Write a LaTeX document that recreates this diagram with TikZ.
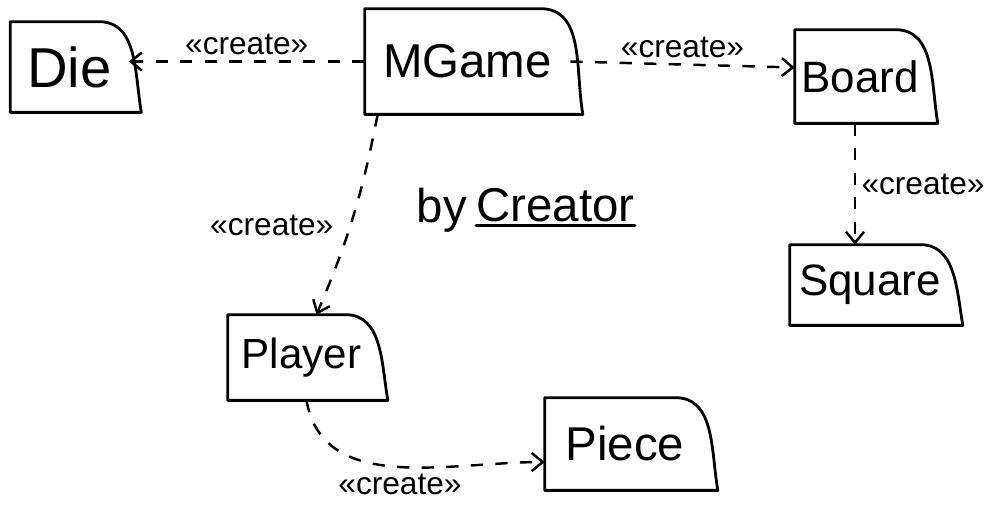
\documentclass[tikz,border=0pt]{standalone}
\usepackage{fontspec}
\setmainfont{Liberation Sans}
\usetikzlibrary{arrows.meta,positioning,calc}
\tikzset{
  box/.style={inner sep=0pt,font=\fontsize{27}{30}\selectfont},
  edge/.style={line width=1.6pt,line join=round,line cap=round},
  dep/.style={-{Straight Barb[length=2.2mm,width=3.6mm,line width=1.4pt]},line width=1.4pt,dash pattern=on 7pt off 7pt},
  lbl/.style={font=\fontsize{18}{20}\selectfont,inner sep=3pt},
}
\newcommand{\sketchbox}[1]{\draw[edge] (#1.south west) -- (#1.north west) -- ([xshift=-6mm]#1.north east) to[out=0,in=100] ([xshift=2.5mm]#1.south east) -- cycle;}

\begin{document}
\begin{tikzpicture}[x=0.02cm,y=-0.02cm]
\useasboundingbox (0,0) rectangle (1005,505);
% classes
\node[box,minimum width=2.36cm,minimum height=1.8cm,font=\fontsize{32}{34}\selectfont] (die) at (69.5,67) {Die};
\node[box,minimum width=4.1cm,minimum height=2.1cm] (mgame) at (467.5,61.5) {MGame};
\node[box,minimum width=2.6cm,minimum height=1.86cm,font=\fontsize{25}{28}\selectfont] (board) at (860,76.5) {Board};
\node[box,minimum width=3.2cm,minimum height=1.6cm,font=\fontsize{25}{28}\selectfont] (square) at (870,285) {Square};
\node[box,minimum width=2.94cm,minimum height=1.7cm,font=\fontsize{24}{27}\selectfont] (player) at (301.5,357.5) {Player};
\node[box,minimum width=3.2cm,minimum height=1.84cm] (piece) at (625,444) {Piece};
\foreach \n in {die,mgame,board,square,player,piece} {\sketchbox{\n}}
% creation dependencies
\draw[dep] (mgame.west) -- (mgame.west -| die.east)
  node[lbl,midway,above] {«create»};
\draw[dep] (mgame.east) -- ([yshift=0.18cm]board.west)
  node[lbl,midway,above] {«create»};
\draw[dep] ([xshift=-0.1cm]board.south) -- ([xshift=-0.1cm]board.south |- square.north)
  node[lbl,midway,right] {«create»};
\draw[dep] ([xshift=0.26cm]mgame.south west) to[bend left=6]
  node[lbl,pos=0.55,left=6pt] {«create»} ([xshift=0.3cm]player.north);
\draw[dep] ([xshift=0.1cm]player.south) to[out=-80,in=180] ([yshift=-0.36cm]piece.west);
\node[lbl] (lcreate) at (400,484) {«create»};
% note
\node[box] (by) at (442,210) {by};
\node[box,anchor=west] (creator) at (476,205) {Creator};
\draw[edge] ([yshift=-2pt]creator.south west) -- ([yshift=-2pt]creator.south east);
\end{tikzpicture}
\end{document}
